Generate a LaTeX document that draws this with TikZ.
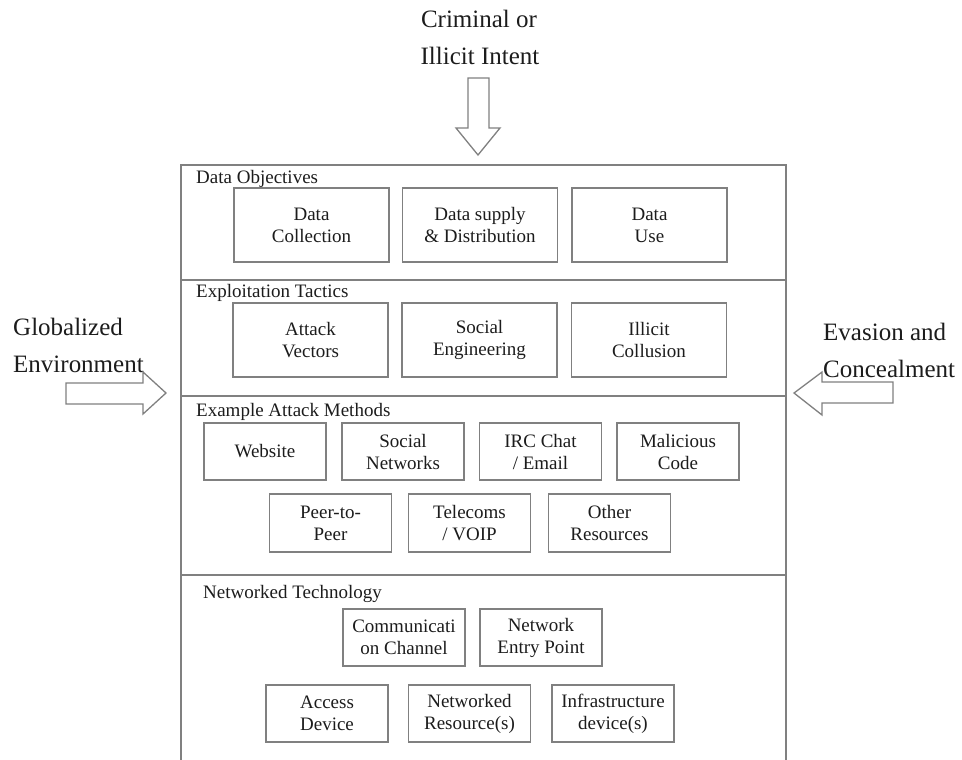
\documentclass[tikz,border=0pt]{standalone}
\usepackage{fontspec}
\setmainfont{Liberation Serif}
\definecolor{linegray}{HTML}{808080}
\definecolor{txt}{HTML}{1C1C1C}
\begin{document}
\begin{tikzpicture}[x=1pt,y=-1pt,
  box/.style={draw=linegray, line width=1.3pt, inner sep=0pt, align=center,
    text=txt, font=\fontsize{19}{22}\selectfont},
  bigbox/.style={box, minimum width=155pt, minimum height=74pt},
  smallbox/.style={box, minimum width=122pt, minimum height=57pt},
  seclabel/.style={anchor=base west, inner sep=0pt, text=txt, font=\fontsize{19}{22}\selectfont},
  bigtext/.style={inner sep=0pt, text=txt, font=\fontsize{25}{30}\selectfont},
  frame/.style={draw=linegray, line width=1.3pt},
  hollow/.style={draw=linegray, line width=1.3pt, fill=white, line join=miter}
]
\useasboundingbox (0,0) rectangle (962,760);

% outer frame and dividers
\draw[frame] (181,760) -- (181,165) -- (786,165) -- (786,760);
\coordinate (d1l) at (181,280); \coordinate (d1r) at (786,280);
\coordinate (d2l) at (181,396); \coordinate (d2r) at (786,396);
\coordinate (d3l) at (181,575); \coordinate (d3r) at (786,575);
\draw[frame] (d1l) -- (d1r);
\draw[frame] (d2l) -- (d2r);
\draw[frame] (d3l) -- (d3r);

% outside texts
\node[bigtext, anchor=base] (crim) at (479,28) {Criminal or};
\node[bigtext, anchor=base] (illi) at (480,65) {Illicit Intent};
\node[bigtext, anchor=base west] (glob) at (13,335) {Globalized};
\node[bigtext, anchor=base west] (envi) at (13,372) {Environment};
\node[bigtext, anchor=base west] (evas) at (823,340) {Evasion and};
\node[bigtext, anchor=base west] (conc) at (823,377) {Concealment};

% hollow arrows
\draw[hollow] (468,78) -- (489,78) -- (489,128) -- (500,128) -- (478,155)
  -- (456,128) -- (468,128) -- cycle;
\draw[hollow] (66,383) -- (143,383) -- (143,372) -- (166,393) -- (143,414)
  -- (143,404) -- (66,404) -- cycle;
\draw[hollow] (893,382) -- (822,382) -- (822,372) -- (794,393) -- (822,415)
  -- (822,403) -- (893,403) -- cycle;

% section labels
\node[seclabel] (lobj) at (196,183) {Data Objectives};
\node[seclabel] (ltac) at (196,297) {Exploitation Tactics};
\node[seclabel] (lmet) at (196,416) {Example Attack Methods};
\node[seclabel] (ltec) at (203,598) {Networked Technology};

% Data objectives
\node[bigbox] (dc) at (311.5,225) {Data\\Collection};
\node[bigbox] (ds) at (480,225) {Data supply\\\& Distribution};
\node[bigbox] (du) at (649.5,225) {Data\\Use};

% Exploitation tactics
\node[bigbox] (av) at (310.5,340) {Attack\\Vectors};
\node[bigbox] (se) at (479.5,340) {Social\\Engineering};
\node[bigbox] (ic) at (649,340) {Illicit\\Collusion};

% Example attack methods
\node[smallbox] (web) at (265,451.5) {Website};
\node[smallbox] (sn) at (403,451.5) {Social\\Networks};
\node[smallbox] (irc) at (540.5,451.5) {IRC Chat\\/ Email};
\node[smallbox] (mc) at (678,451.5) {Malicious\\Code};
\node[smallbox, minimum height=58pt] (p2p) at (330.5,523) {Peer-to-\\Peer};
\node[smallbox, minimum height=58pt] (tel) at (469.5,523) {Telecoms\\/ VOIP};
\node[smallbox, minimum height=58pt] (oth) at (609.5,523) {Other\\Resources};

% Networked technology
\node[smallbox] (cc) at (404,637.5) {Communicati\\on Channel};
\node[smallbox] (nep) at (541,637.5) {Network\\Entry Point};
\node[smallbox] (ad) at (327,713.5) {Access\\Device};
\node[smallbox] (nr) at (469.5,713.5) {Networked\\Resource(s)};
\node[smallbox] (inf) at (613,713.5) {Infrastructure\\device(s)};
\end{tikzpicture}
\end{document}
